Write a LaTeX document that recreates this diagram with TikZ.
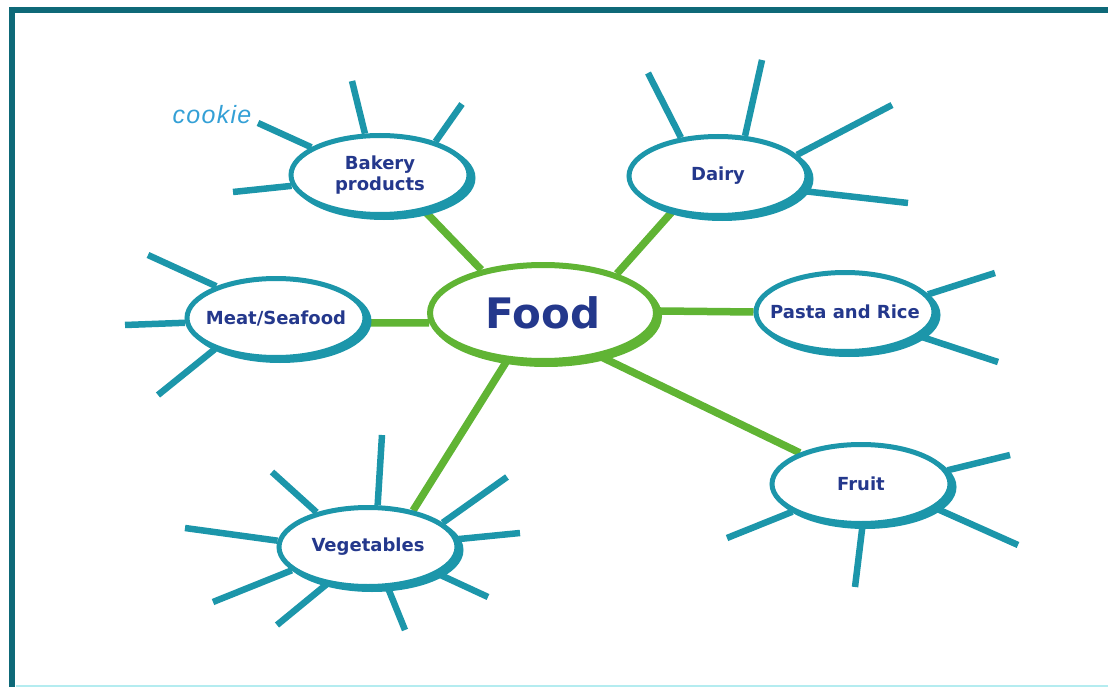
\documentclass[tikz,border=0pt]{standalone}
\usepackage{fontspec}
\setmainfont{DejaVu Sans}
\newfontfamily\notefont{Liberation Sans}[LetterSpace=5]
\usetikzlibrary{shapes.geometric,shadows,backgrounds}
\definecolor{frameteal}{RGB}{14,105,120}
\definecolor{spoketeal}{RGB}{28,150,170}
\definecolor{linkgreen}{RGB}{96,180,52}
\definecolor{textblue}{RGB}{36,56,140}
\definecolor{noteblue}{RGB}{52,160,214}
\definecolor{edgecyan}{RGB}{180,236,240}

\begin{document}
\begin{tikzpicture}[
  x=1pt,y=-1pt,
  bubble/.style={ellipse,fill=white,inner xsep=-50pt,inner ysep=-10pt,align=center,text=textblue},
  topic/.style={bubble,draw=spoketeal,line width=5pt,minimum width=178pt,minimum height=79pt,
    font=\bfseries\fontsize{18}{21}\selectfont,
    drop shadow={draw=spoketeal,fill=spoketeal,line width=5pt,opacity=1,shadow xshift=4pt,shadow yshift=-3pt}},
  hub/.style={bubble,draw=linkgreen,line width=6pt,minimum width=226pt,minimum height=96pt,
    font=\bfseries\fontsize{42}{46}\selectfont,
    drop shadow={draw=linkgreen,fill=linkgreen,line width=6pt,opacity=1,shadow xshift=3pt,shadow yshift=-3pt}},
  link/.style={draw=linkgreen,line width=7.5pt},
  spoke/.style={draw=spoketeal,line width=6.5pt},
  frame/.style={draw=frameteal,line width=6.5pt},
  note/.style={text=noteblue,font=\notefont\itshape\fontsize{25}{28}\selectfont,inner sep=0pt},
]
\useasboundingbox (0,0) rectangle (1108,687);

\node[hub] (food) at (543,313) {Food};
\node[topic] (bakery) at (380,175) {Bakery\\products};
\node[topic] (dairy) at (718,176) {Dairy};
\node[topic] (meat) at (276,318) {Meat/Seafood};
\node[topic] (pasta) at (845,312) {Pasta and Rice};
\node[topic] (fruit) at (861,484) {Fruit};
\node[topic] (veg) at (368,547) {Vegetables};
\node[note] (cookie) at (212,115) {cookie};

\begin{scope}[on background layer]
\draw[link] (food.145) -- (bakery.-39);
\draw[link] (food.28) -- (dairy.218);
\draw[link] (food.185) -- (meat.-3);
\draw[link] (food.1) -- (pasta.180);
\draw[link] (food.-37) -- (fruit.153);
\draw[link] (food.-127) -- (veg.39);

\foreach \a/\x/\y [count=\i] in {158/258/123,110/352/81,31/462/104,187/233/192}
  {\coordinate (b\i) at (\x,\y); \draw[spoke] (bakery.\a) -- (b\i);}
\foreach \a/\x/\y [count=\i] in {134/648/73,56/762/60,15/892/105,-10/908/203}
  {\coordinate (d\i) at (\x,\y); \draw[spoke] (dairy.\a) -- (d\i);}
\foreach \a/\x/\y [count=\i] in {152/148/255,183/125/325,207/158/395}
  {\coordinate (m\i) at (\x,\y); \draw[spoke] (meat.\a) -- (m\i);}
\foreach \a/\x/\y [count=\i] in {12/995/273,-18/998/362}
  {\coordinate (p\i) at (\x,\y); \draw[spoke] (pasta.\a) -- (p\i);}
\foreach \a/\x/\y [count=\i] in {9/1010/455,-18/1018/545,-88/855/587,202/727/538}
  {\coordinate (f\i) at (\x,\y); \draw[spoke] (fruit.\a) -- (f\i);}
\foreach \a/\x/\y [count=\i] in {77/382/435,146/272/472,176/185/528,197/213/602,222/277/625,-64/405/630,-21/488/597,5/520/533,18/507/477}
  {\coordinate (v\i) at (\x,\y); \draw[spoke] (veg.\a) -- (v\i);}
\end{scope}

% frame
\draw[frame] (9,10) -- (1108,10);
\draw[frame] (12,7) -- (12,687);
\draw[draw=edgecyan,line width=2pt] (16,686) -- (1108,686);
\end{tikzpicture}
\end{document}
